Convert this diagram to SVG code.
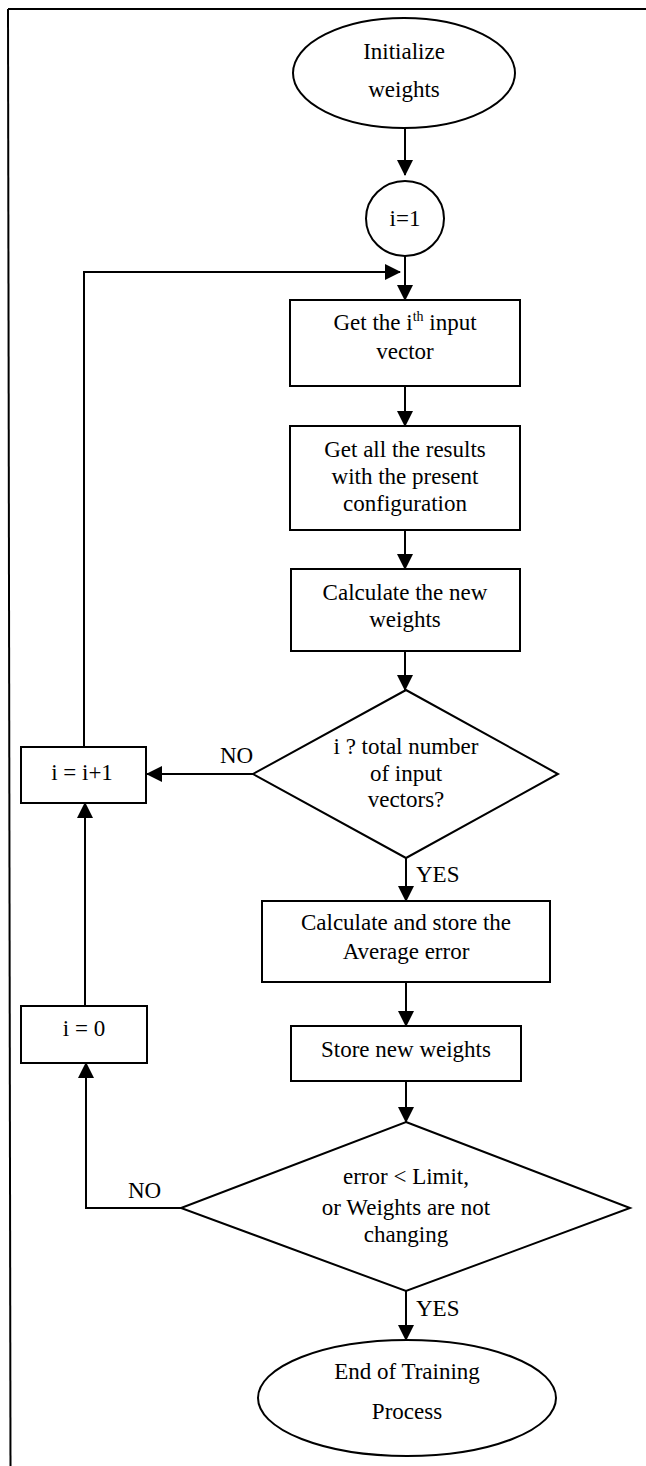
<svg xmlns="http://www.w3.org/2000/svg" width="646" height="1466" viewBox="0 0 646 1466">
<style>
.s{fill:#fff;stroke:#000;stroke-width:2}
.t{font-family:"Liberation Serif","Times New Roman",serif;font-size:23px;fill:#000;text-anchor:middle}
.l{font-family:"Liberation Serif","Times New Roman",serif;font-size:23px;fill:#000}
.c{fill:none;stroke:#000;stroke-width:2}
</style>
<defs>
<marker id="ah" markerUnits="userSpaceOnUse" markerWidth="16" markerHeight="16" viewBox="0 0 16 16" refX="15" refY="8" orient="auto">
<path d="M0,0 L16,8 L0,16 Z" fill="#000"/>
</marker>
</defs>
<rect width="646" height="1466" fill="#fff"/>
<g id="frame">
<line x1="8" y1="9" x2="646" y2="9" stroke="#000" stroke-width="2"/>
<line x1="8" y1="9" x2="10.5" y2="1466" stroke="#000" stroke-width="2"/>
</g>
<g id="connectors">
<line class="c" x1="405" y1="128" x2="405" y2="175" marker-end="url(#ah)"/>
<line class="c" x1="405" y1="256" x2="405" y2="300" marker-end="url(#ah)"/>
<polyline class="c" points="84,747 84,272 400,272" marker-end="url(#ah)"/>
<line class="c" x1="405" y1="386" x2="405" y2="426" marker-end="url(#ah)"/>
<line class="c" x1="405" y1="530" x2="405" y2="569" marker-end="url(#ah)"/>
<line class="c" x1="405" y1="651" x2="405" y2="690" marker-end="url(#ah)"/>
<line class="c" x1="253" y1="774" x2="147" y2="774" marker-end="url(#ah)"/>
<line class="c" x1="406" y1="858" x2="406" y2="901" marker-end="url(#ah)"/>
<line class="c" x1="406" y1="982" x2="406" y2="1026" marker-end="url(#ah)"/>
<line class="c" x1="406" y1="1081" x2="406" y2="1122" marker-end="url(#ah)"/>
<line class="c" x1="85" y1="1006" x2="85" y2="803" marker-end="url(#ah)"/>
<polyline class="c" points="181,1208 86,1208 86,1063" marker-end="url(#ah)"/>
<line class="c" x1="406" y1="1291" x2="406" y2="1340" marker-end="url(#ah)"/>
<text class="l" x="220" y="763">NO</text>
<text class="l" x="416" y="882">YES</text>
<text class="l" x="128" y="1198">NO</text>
<text class="l" x="416" y="1316">YES</text>
</g>
<g id="init">
<ellipse class="s" cx="404" cy="73" rx="111" ry="55"/>
<text class="t" x="404" y="59">Initialize</text>
<text class="t" x="404" y="97">weights</text>
</g>
<g id="i1">
<ellipse class="s" cx="405" cy="218.5" rx="39" ry="37.5"/>
<text class="t" x="405" y="226">i=1</text>
</g>
<g id="getinput">
<rect class="s" x="290" y="300" width="230" height="86"/>
<text class="t" x="405" y="330">Get the i<tspan font-size="14" dy="-9">th</tspan><tspan dy="9"> input</tspan></text>
<text class="t" x="405" y="359">vector</text>
</g>
<g id="getresults">
<rect class="s" x="290" y="426" width="230" height="104"/>
<text class="t" x="405" y="457">Get all the results</text>
<text class="t" x="405" y="484">with the present</text>
<text class="t" x="405" y="511">configuration</text>
</g>
<g id="calcweights">
<rect class="s" x="291" y="569" width="229" height="82"/>
<text class="t" x="405" y="600">Calculate the new</text>
<text class="t" x="405" y="627">weights</text>
</g>
<g id="decision1">
<polygon class="s" points="406,690 558,774 406,858 253,774"/>
<text class="t" x="406" y="754">i ? total number</text>
<text class="t" x="406" y="781">of input</text>
<text class="t" x="406" y="807">vectors?</text>
</g>
<g id="inc">
<rect class="s" x="21" y="747" width="125" height="56"/>
<text class="t" x="82" y="780">i = i+1</text>
</g>
<g id="avgerr">
<rect class="s" x="262" y="901" width="288" height="81"/>
<text class="t" x="406" y="930">Calculate and store the</text>
<text class="t" x="406" y="959">Average error</text>
</g>
<g id="store">
<rect class="s" x="291" y="1026" width="230" height="55"/>
<text class="t" x="406" y="1057">Store new weights</text>
</g>
<g id="reset">
<rect class="s" x="21" y="1006" width="126" height="57"/>
<text class="t" x="84" y="1036">i = 0</text>
</g>
<g id="decision2">
<polygon class="s" points="406,1122 630,1208 406,1291 181,1208"/>
<text class="t" x="406" y="1184">error &lt; Limit,</text>
<text class="t" x="406" y="1215">or Weights are not</text>
<text class="t" x="406" y="1242">changing</text>
</g>
<g id="end">
<ellipse class="s" cx="407" cy="1398" rx="149" ry="58"/>
<text class="t" x="407" y="1379">End of Training</text>
<text class="t" x="407" y="1419">Process</text>
</g>
</svg>
